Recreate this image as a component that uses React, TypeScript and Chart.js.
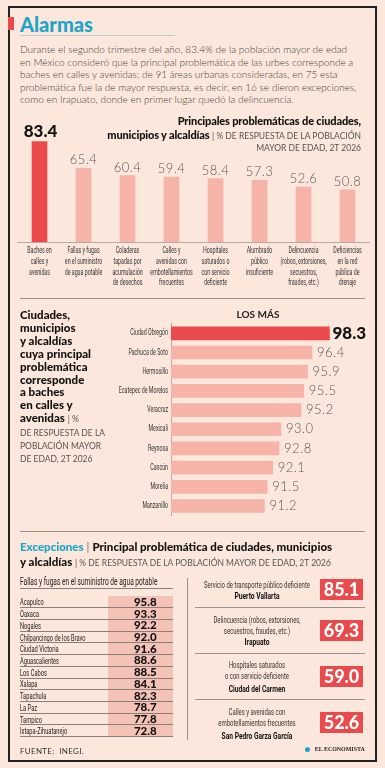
import React, { useEffect, useRef } from "react";
import { Chart, registerables } from "chart.js";

Chart.register(...registerables);

// ---- data ----
const problemLabels: string[][] = [
  ["Baches en", "calles y", "avenidas"],
  ["Fallas y fugas", "en el suministro", "de agua potable"],
  ["Coladeras", "tapadas por", "acumulación", "de desechos"],
  ["Calles y", "avenidas con", "embotellamientos", "frecuentes"],
  ["Hospitales", "saturados o", "con servicio", "deficiente"],
  ["Alumbrado", "público", "insuficiente"],
  ["Delincuencia", "(robos, extorsiones,", "secuestros,", "fraudes, etc.)"],
  ["Deficiencias", "en la red", "pública de", "drenaje"],
];
const problemValues = [83.4, 65.4, 60.4, 59.4, 58.4, 57.3, 52.6, 50.8];

const cityLabels = [
  "Ciudad Obregón",
  "Pachuca de Soto",
  "Hermosillo",
  "Ecatepec de Morelos",
  "Veracruz",
  "Mexicali",
  "Reynosa",
  "Cancún",
  "Morelia",
  "Manzanillo",
];
const cityValues = [98.3, 96.4, 95.9, 95.5, 95.2, 93.0, 92.8, 92.1, 91.5, 91.2];

const waterCities = [
  "Acapulco",
  "Oaxaca",
  "Nogales",
  "Chilpancingo de los Bravo",
  "Ciudad Victoria",
  "Aguascalientes",
  "Los Cabos",
  "Xalapa",
  "Tapachula",
  "La Paz",
  "Tampico",
  "Ixtapa-Zihuatanejo",
];
const waterValues = [95.8, 93.3, 92.2, 92.0, 91.6, 88.6, 88.5, 84.1, 82.3, 78.7, 77.8, 72.8];

const exceptionProblems: string[][] = [
  ["Servicio de transporte público deficiente"],
  ["Delincuencia (robos, extorsiones,", "secuestros, fraudes, etc.)"],
  ["Hospitales saturados", "o con servicio deficiente"],
  ["Calles y avenidas con", "embotellamientos frecuentes"],
];
const exceptionCities = ["Puerto Vallarta", "Irapuato", "Ciudad del Carmen", "San Pedro Garza García"];
const exceptionValues = [85.1, 69.3, 59.0, 52.6];

const introLines = [
  "Durante el segundo trimestre del año, 83.4% de la población mayor de edad",
  "en México consideró que la principal problemática de las urbes corresponde a",
  "baches en calles y avenidas; de 91 áreas urbanas consideradas, en 75 esta",
  "problemática fue la de mayor respuesta, es decir, en 16 se dieron excepciones,",
  "como en Irapuato, donde en primer lugar quedó la delincuencia.",
];

// ---- style ----
const BG = "#fce7dc";
const RED = "#ea4a4c";
const PINK = "#f6b3a7";
const CELL_PINK = "#f5c2b8";
const TEAL = "#1ea5c7";
const FONT = '"Lato", "Open Sans", sans-serif';
const COND = '"Roboto", "Noto Sans", sans-serif';
const W = 385;

function condText(
  ctx: CanvasRenderingContext2D,
  text: string,
  x: number,
  y: number,
  align: CanvasTextAlign,
  k: number,
  font: string,
  color: string
) {
  ctx.save();
  ctx.translate(x, y);
  ctx.scale(k, 1);
  ctx.font = font;
  ctx.fillStyle = color;
  ctx.textAlign = align;
  ctx.textBaseline = "middle";
  ctx.fillText(text, 0, 0);
  ctx.restore();
}

type TxtProps = {
  x: number;
  y: number;
  align?: "left" | "right" | "center";
  size: number;
  weight?: number;
  color?: string;
  k?: number;
  family?: string;
  spacing?: number;
  children: React.ReactNode;
};

function Txt({ x, y, align = "left", size, weight = 400, color = "#222", k = 1, family = FONT, spacing, children }: TxtProps) {
  const lh = Math.round(size * 1.4);
  const style: React.CSSProperties = {
    position: "absolute",
    top: y - lh / 2,
    height: lh,
    lineHeight: lh + "px",
    fontSize: size,
    fontWeight: weight,
    color,
    fontFamily: family,
    whiteSpace: "nowrap",
    letterSpacing: spacing,
  };
  if (align === "left") {
    style.left = x;
    style.transformOrigin = "left center";
    if (k !== 1) style.transform = `scaleX(${k})`;
  } else if (align === "right") {
    style.right = W - x;
    style.transformOrigin = "right center";
    if (k !== 1) style.transform = `scaleX(${k})`;
  } else {
    style.left = x;
    style.transformOrigin = "center center";
    style.transform = `translateX(-50%) scaleX(${k})`;
  }
  return <div style={style}>{children}</div>;
}

function Rule({ x, y, w, h = 1, color = "#9a918c" }: { x: number; y: number; w: number; h?: number; color?: string }) {
  return <div style={{ position: "absolute", left: x, top: y, width: w, height: h, background: color }} />;
}

// ---- vertical bar chart: main problems ----
const problemTextPlugin = {
  id: "problemText",
  afterDatasetsDraw(chart: any) {
    const ctx: CanvasRenderingContext2D = chart.ctx;
    const meta = chart.getDatasetMeta(0);
    const xs = chart.scales.x;
    meta.data.forEach((bar: any, i: number) => {
      const v = problemValues[i];
      ctx.save();
      ctx.textAlign = "center";
      ctx.textBaseline = "middle";
      if (i === 0) {
        ctx.font = `900 17px ${FONT}`;
        ctx.fillStyle = "#111";
        ctx.fillText(v.toFixed(1), bar.x + 1, bar.y - 10);
      } else {
        ctx.font = `300 13px ${FONT}`;
        ctx.fillStyle = "#5a5a5a";
        (ctx as any).letterSpacing = "0.5px";
        ctx.fillText(v.toFixed(1), bar.x, bar.y - 8);
      }
      ctx.restore();
      problemLabels[i].forEach((line, j) =>
        condText(ctx, line, xs.getPixelForValue(i), 151 + j * 10.7, "center", 0.62, `400 8.5px ${COND}`, "#333")
      );
    });
  },
};

function ProblemsChart() {
  const ref = useRef<HTMLCanvasElement>(null);
  useEffect(() => {
    const chart = new Chart(ref.current!, {
      type: "bar",
      data: {
        labels: problemLabels.map((l) => l.join(" ")),
        datasets: [
          {
            data: problemValues,
            backgroundColor: problemValues.map((_, i) => (i === 0 ? RED : PINK)),
            barThickness: 15,
          },
        ],
      },
      options: {
        responsive: false,
        animation: false,
        devicePixelRatio: 1,
        layout: { padding: { left: 17.5, right: 15.5, top: 17, bottom: 0 } },
        plugins: { legend: { display: false }, tooltip: { enabled: false } },
        scales: {
          x: {
            grid: { display: false },
            border: { display: true, color: "#b5aaa4", width: 1 },
            ticks: { display: false },
            afterFit: (s: any) => {
              s.height = 58;
            },
          },
          y: { display: false, min: 15.6, max: 100 },
        },
      },
      plugins: [problemTextPlugin],
    } as any);
    return () => chart.destroy();
  }, []);
  return (
    <canvas
      ref={ref}
      width={W}
      height={200}
      style={{ position: "absolute", left: 0, top: 100, width: W, height: 200 }}
    />
  );
}

// ---- horizontal bar chart: cities with potholes ----
const cityTextPlugin = {
  id: "cityText",
  afterDatasetsDraw(chart: any) {
    const ctx: CanvasRenderingContext2D = chart.ctx;
    const meta = chart.getDatasetMeta(0);
    const ys = chart.scales.y;
    meta.data.forEach((bar: any, i: number) => {
      const v = cityValues[i];
      ctx.save();
      ctx.textAlign = "left";
      ctx.textBaseline = "middle";
      if (i === 0) {
        ctx.font = `900 17px ${FONT}`;
        ctx.fillStyle = "#111";
        ctx.fillText(v.toFixed(1), bar.x + 3, bar.y);
      } else {
        ctx.font = `300 13px ${FONT}`;
        ctx.fillStyle = "#5a5a5a";
        (ctx as any).letterSpacing = "0.5px";
        ctx.fillText(v.toFixed(1), bar.x + 5, bar.y);
      }
      ctx.restore();
      condText(ctx, cityLabels[i], 168, ys.getPixelForValue(i), "right", 0.62, `400 8.5px ${COND}`, "#333");
    });
  },
};

function CitiesChart() {
  const ref = useRef<HTMLCanvasElement>(null);
  useEffect(() => {
    const chart = new Chart(ref.current!, {
      type: "bar",
      data: {
        labels: cityLabels,
        datasets: [
          {
            data: cityValues,
            backgroundColor: cityValues.map((_, i) => (i === 0 ? RED : PINK)),
            barThickness: 13,
          },
        ],
      },
      options: {
        indexAxis: "y",
        responsive: false,
        animation: false,
        devicePixelRatio: 1,
        layout: { padding: { left: 0, right: 40, top: 23.7, bottom: 9.4 } },
        plugins: { legend: { display: false }, tooltip: { enabled: false } },
        scales: {
          x: { display: false, min: 81, max: 100 },
          y: {
            grid: { display: false },
            border: { display: true, color: "#b5aaa4", width: 1 },
            ticks: { display: false },
            afterFit: (s: any) => {
              s.width = 171;
            },
          },
        },
      },
      plugins: [cityTextPlugin],
    } as any);
    return () => chart.destroy();
  }, []);
  return (
    <canvas
      ref={ref}
      width={W}
      height={225}
      style={{ position: "absolute", left: 0, top: 300, width: W, height: 225 }}
    />
  );
}

const leftBold = ["Ciudades,", "municipios", "y alcaldías", "cuya principal", "problemática", "corresponde", "a baches", "en calles y"];
const leftSmall = ["DE RESPUESTA DE LA", "POBLACIÓN MAYOR", "DE EDAD, 2T 2026"];

const boxTops = [579.3, 620, 666, 712];
const boxLineY: number[][] = [
  [585, 595],
  [620, 631, 641.7],
  [665.7, 676.7, 688.3],
  [712.7, 723.3, 735],
];

export default function App() {
  const rowH = 140.7 / waterCities.length;
  return (
    <div
      style={{
        position: "fixed",
        left: 0,
        top: 0,
        width: W,
        height: 768,
        background: BG,
        overflow: "hidden",
        fontFamily: FONT,
      }}
    >
      {/* frame */}
      <div
        style={{
          position: "absolute",
          left: 8,
          top: 6,
          width: 369,
          height: 756,
          border: "2px solid #222",
          boxSizing: "border-box",
        }}
      />
      <div style={{ position: "absolute", left: 8, top: 17, width: 6, height: 13, background: RED }} />
      <Txt x={20} y={23.5} size={20} weight={900} color={TEAL}>
        Alarmas
      </Txt>
      <Rule x={20} y={35} w={155} color="#c2c9cf" />
      {introLines.map((l, i) => (
        <Txt key={i} x={20} y={49.3 + i * 12.4} size={10} weight={300} color="#3f3f3f">
          {l}
        </Txt>
      ))}

      <ProblemsChart />
      <Txt x={361} y={120} align="right" size={11} weight={900} color="#111" spacing={-0.15}>
        Principales problemáticas de ciudades,
      </Txt>
      <Txt x={361} y={134} align="right" size={11} weight={900} color="#111">
        <span style={{ letterSpacing: -0.15 }}>municipios y alcaldías</span>{" "}
        <span style={{ fontWeight: 400, fontSize: 8.5, color: "#555" }}>| % DE RESPUESTA DE LA POBLACIÓN</span>
      </Txt>
      <Txt x={361} y={147.7} align="right" size={8.5} color="#555">
        MAYOR DE EDAD, 2T 2026
      </Txt>

      <Rule x={20} y={298} w={345} />

      <CitiesChart />
      <Txt x={258} y={314} align="center" size={10} weight={700} color="#222">
        LOS MÁS
      </Txt>
      {leftBold.map((l, i) => (
        <Txt key={i} x={20} y={315 + i * 12.9} size={11.5} weight={900} color="#111">
          {l}
        </Txt>
      ))}
      <Txt x={20} y={315 + 8 * 12.9} size={11.5} weight={900} color="#111">
        avenidas <span style={{ fontWeight: 400, fontSize: 8.5, color: "#555" }}>| %</span>
      </Txt>
      {leftSmall.map((l, i) => (
        <Txt key={i} x={20} y={432.7 + i * 12.9} size={8.5} color="#555">
          {l}
        </Txt>
      ))}

      <Rule x={20} y={531} w={345} />

      <Txt x={20} y={546.7} size={11.5} weight={900} color="#111">
        <span style={{ color: TEAL }}>Excepciones</span>
        <span style={{ fontWeight: 400, color: "#777" }}> | </span>
        Principal problemática de ciudades, municipios
      </Txt>
      <Txt x={20} y={562} size={11.5} weight={900} color="#111">
        y alcaldías{" "}
        <span style={{ fontWeight: 400, fontSize: 8.5, color: "#555" }}>
          | % DE RESPUESTA DE LA POBLACIÓN MAYOR DE EDAD, 2T 2026
        </span>
      </Txt>

      {/* water supply table */}
      <Txt x={20} y={581.7} size={10} family={COND} k={0.66} color="#222">
        Fallas y fugas en el suministro de agua potable
      </Txt>
      <Rule x={20} y={588} w={153} color="#8a7f7a" />
      <div style={{ position: "absolute", left: 108, top: 596, width: 65, height: 140.7, background: CELL_PINK }} />
      {waterCities.map((c, i) => (
        <React.Fragment key={c}>
          <Txt x={20} y={596 + rowH * (i + 0.5)} size={9.5} family={COND} k={0.6} color="#222">
            {c}
          </Txt>
          <Txt x={156.7} y={596 + rowH * (i + 0.5)} align="right" size={11.5} weight={900} color="#111">
            {waterValues[i].toFixed(1)}
          </Txt>
          <Rule x={20} y={596 + rowH * (i + 1) - 0.5} w={153} color="#8a7f7a" />
        </React.Fragment>
      ))}

      <Rule x={187} y={578} w={1} h={162} color="#9a918c" />

      {exceptionCities.map((c, i) => {
        const ys = boxLineY[i];
        const lines = exceptionProblems[i];
        return (
          <React.Fragment key={c}>
            {lines.map((l, j) => (
              <Txt key={j} x={257} y={ys[j]} align="center" size={9} family={COND} k={0.66} color="#333">
                {l}
              </Txt>
            ))}
            <Txt x={257} y={ys[lines.length]} align="center" size={9.5} weight={700} family={COND} k={0.7} color="#111">
              {c}
            </Txt>
            <div
              style={{
                position: "absolute",
                left: 320,
                top: boxTops[i],
                width: 43,
                height: 20.7,
                background: RED,
              }}
            />
            <Txt x={341.5} y={boxTops[i] + 10.3} align="center" size={18} weight={900} color="#fff">
              {exceptionValues[i].toFixed(1)}
            </Txt>
          </React.Fragment>
        );
      })}
      <Rule x={195} y={606.7} w={170} />
      <Rule x={195} y={653.3} w={170} />
      <Rule x={195} y={699.3} w={170} />

      <Txt x={20} y={751} size={8} color="#333" spacing={0.3}>
        FUENTE:&nbsp; INEGI.
      </Txt>
      <div
        style={{
          position: "absolute",
          left: 305,
          top: 746.5,
          width: 5,
          height: 5,
          borderRadius: "50%",
          background: TEAL,
        }}
      />
      <Txt
        x={365}
        y={749}
        align="right"
        size={7}
        weight={700}
        k={0.85}
        family='"Liberation Serif", "DejaVu Serif", serif'
        color="#222"
      >
        EL ECONOMISTA
      </Txt>
    </div>
  );
}
